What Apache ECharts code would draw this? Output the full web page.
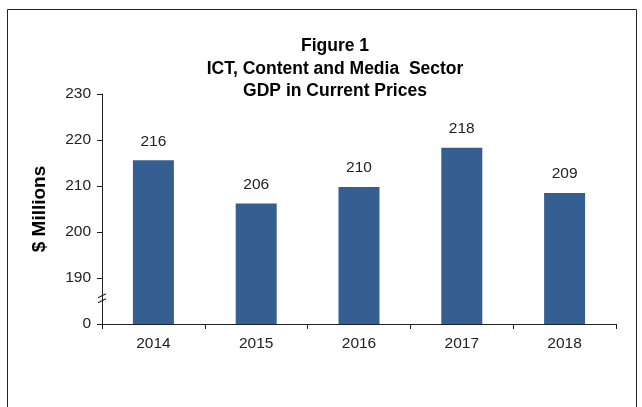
<!DOCTYPE html>
<html>
<head>
<meta charset="utf-8">
<script src="https://cdn.jsdelivr.net/npm/echarts@6/dist/echarts.min.js"></script>
<style>
html, body { margin: 0; padding: 0; background: #fff; }
#chart { width: 642px; height: 407px; }
</style>
</head>
<body>
<div id="chart"></div>
<script>
// 数据
var years = ['2014', '2015', '2016', '2017', '2018'];
var gdp = [215.6, 206.2, 209.8, 218.3, 208.5];
// y轴从180起画，180处显示为0（断轴）
var yMin = 180;
var yMax = 230;
var yStep = 10;

var chart = echarts.init(document.getElementById('chart'));
var font = '"Liberation Sans", Arial, sans-serif';
var gridLeft = 102;

var option = {
	backgroundColor: '#fff',
	animation: false,
	title: {
		text: 'Figure 1\nICT, Content and Media  Sector\nGDP in Current Prices',
		left: 330,
		top: 30,
		textAlign: 'center',
		textStyle: {
			fontFamily: font,
			fontSize: 17.5,
			fontWeight: 'bold',
			color: '#000',
			lineHeight: 22.5
		}
	},
	grid: {
		left: gridLeft,
		right: 26,
		top: 94,
		bottom: 83
	},
	xAxis: {
		type: 'category',
		data: years,
		axisLine: { lineStyle: { color: '#222', width: 1 } },
		axisTick: { show: true, length: 5, lineStyle: { color: '#222' } },
		axisLabel: {
			fontFamily: font,
			fontSize: 15.5,
			color: '#222',
			margin: 12
		}
	},
	yAxis: {
		type: 'value',
		min: yMin,
		max: yMax,
		interval: yStep,
		name: '$ Millions',
		nameLocation: 'middle',
		nameGap: 53,
		nameTextStyle: {
			fontFamily: font,
			fontSize: 19,
			fontWeight: 'bold',
			color: '#000'
		},
		splitLine: { show: false },
		axisLine: { show: true, lineStyle: { color: '#222', width: 1 } },
		axisTick: { show: true, length: 5, lineStyle: { color: '#222' } },
		axisLabel: {
			fontFamily: font,
			fontSize: 15.5,
			color: '#222',
			margin: 11,
			formatter: function (v) {
				return v === yMin ? '0' : String(v);
			}
		}
	},
	series: [{
		type: 'bar',
		data: gdp,
		barWidth: 41,
		itemStyle: { color: '#365f91' },
		label: {
			show: true,
			position: 'top',
			distance: 11,
			fontFamily: font,
			fontSize: 15.5,
			color: '#222',
			formatter: function (p) {
				return Math.round(p.value);
			}
		}
	}]
};
chart.setOption(option);

// 断轴标记和外框
var ax = gridLeft;
var yb = chart.convertToPixel({ yAxisIndex: 0 }, 185.5);
chart.setOption({
	graphic: [
		{
			type: 'rect',
			shape: { x: 7.5, y: 9.5, width: 629, height: 420 },
			style: { fill: null, stroke: '#222', lineWidth: 1 },
			silent: true
		},
		{
			type: 'line',
			z: 100,
			shape: { x1: ax - 4, y1: yb - 1, x2: ax + 4, y2: yb - 5 },
			style: { stroke: '#222', lineWidth: 1.2 }
		},
		{
			type: 'line',
			z: 100,
			shape: { x1: ax - 4, y1: yb + 4, x2: ax + 4, y2: yb },
			style: { stroke: '#222', lineWidth: 1.2 }
		}
	]
});
</script>
</body>
</html>
